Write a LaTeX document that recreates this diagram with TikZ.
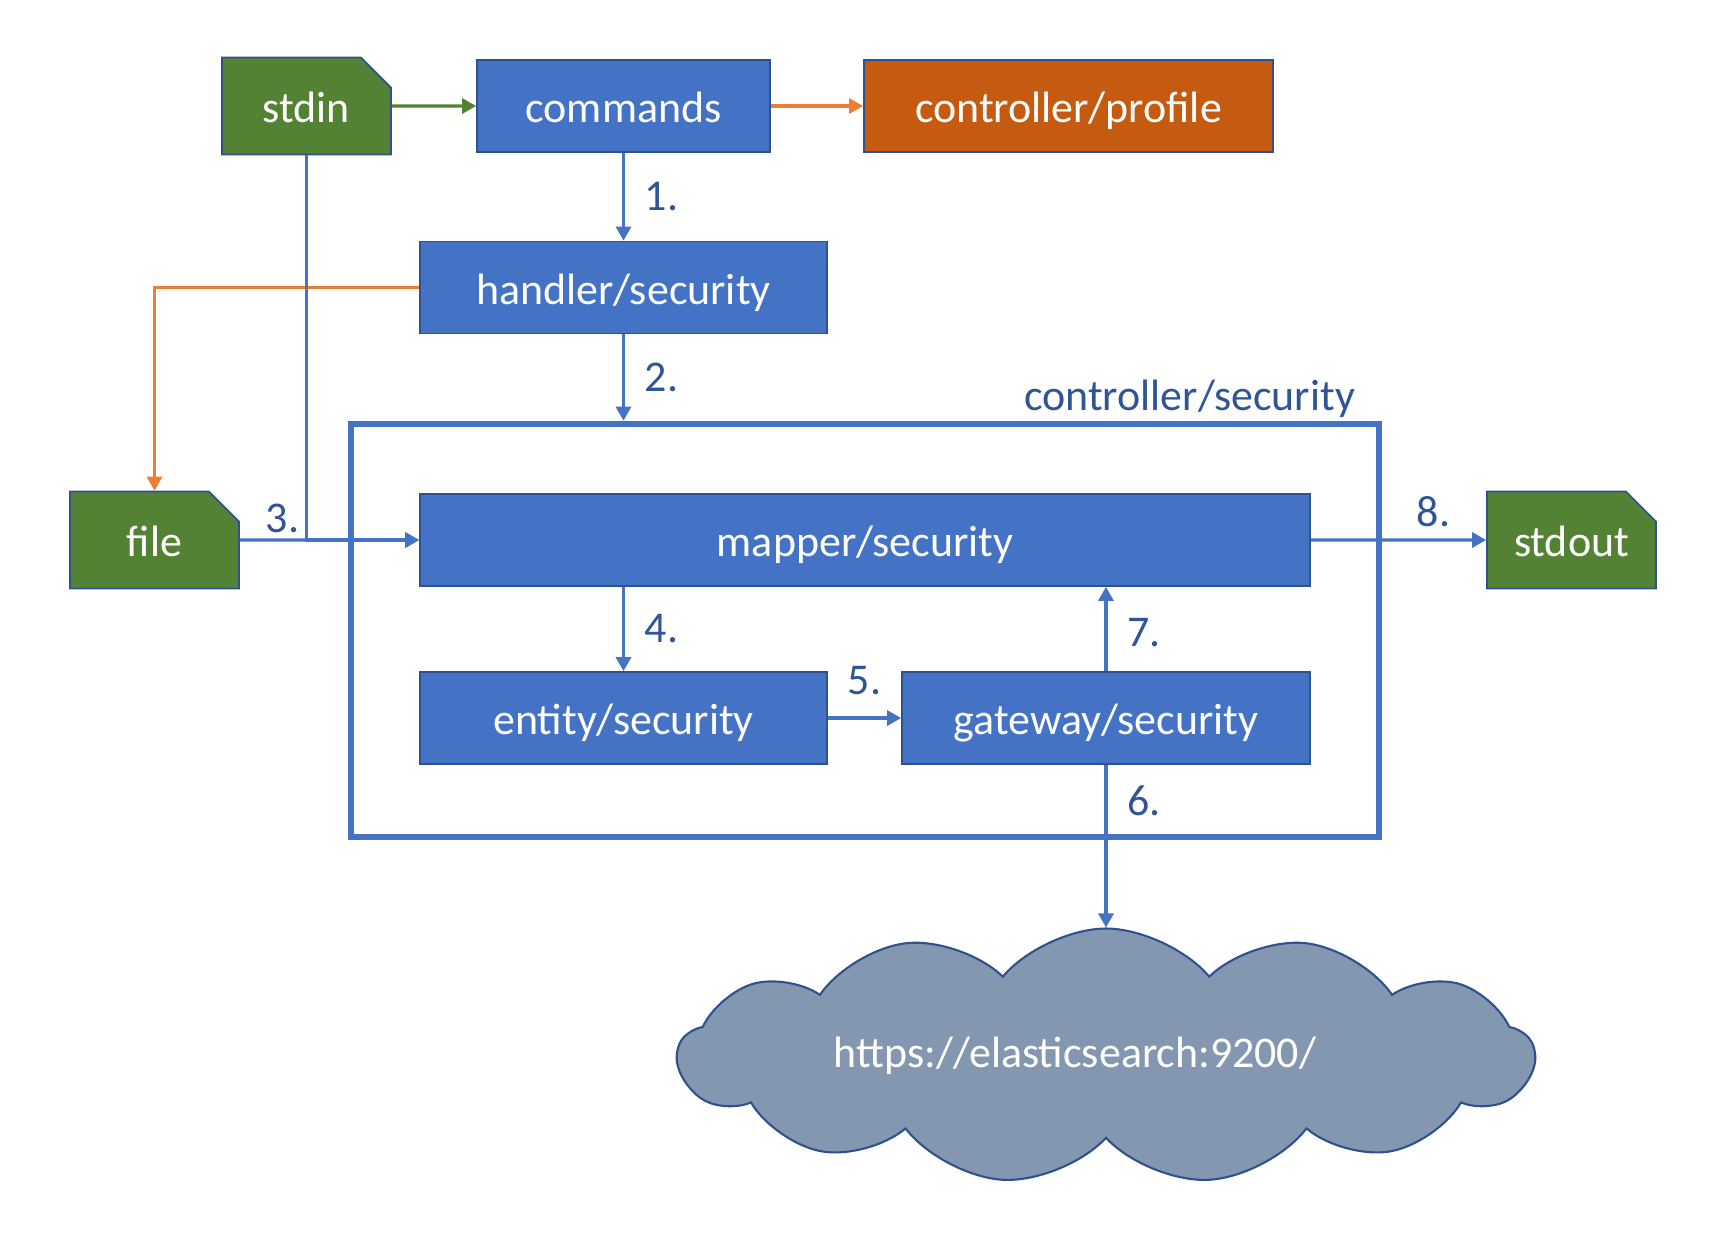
\documentclass[tikz,border=0pt]{standalone}
\usepackage{fontspec}
\setmainfont{Carlito}
\usetikzlibrary{arrows.meta}
\usetikzlibrary{shapes.misc, shapes.symbols}
\usetikzlibrary{positioning}
\definecolor{boxblue}{HTML}{4472C4}
\definecolor{edgeblue}{HTML}{2F528F}
\definecolor{docgreen}{HTML}{548235}
\definecolor{proforange}{HTML}{C55A11}
\definecolor{linkorange}{HTML}{ED7D31}
\definecolor{cloudgray}{HTML}{8497B0}
\definecolor{numblue}{HTML}{2F5597}
\tikzstyle{arrow} = [line width=0.9pt, color=boxblue, -{Triangle[length=1.4mm,width=1.5mm]}]
\tikzstyle{box} = [rectangle, draw=edgeblue, line width=0.5pt, fill=boxblue, text=white, minimum height=0.92cm, text height=9.5pt, text depth=0pt]
\tikzstyle{ctrl} = [box, fill=proforange]
\tikzstyle{doc} = [chamfered rectangle, chamfered rectangle corners=north east, chamfered rectangle sep=1.5mm, draw=edgeblue, line width=0.5pt, fill=docgreen, text=white, minimum width=1.69cm, minimum height=0.97cm, text height=9.5pt, text depth=0pt]
\tikzstyle{frame} = [rectangle, draw=boxblue, line width=1.9pt]
\tikzstyle{num} = [text=numblue]
\tikzstyle{net} = [cloud, cloud puffs=13, cloud puff arc=100, cloud ignores aspect, draw=edgeblue, line width=0.6pt, fill=cloudgray, text=white, minimum width=8.56cm, minimum height=2.55cm]

\begin{document}
\begin{tikzpicture}[font=\fontsize{12.5}{15}\selectfont]
		\useasboundingbox (0,0) rectangle (17.32,-12.40);
		\node (stdin) [doc] at (3.065,-1.06) {stdin};
		\node (commands) [box, minimum width=2.93cm] at (6.235,-1.06) {commands};
		\node (profile) [ctrl, minimum width=4.09cm] at (10.685,-1.06) {controller/profile};
		\node (handler) [box, minimum width=4.07cm] at (6.235,-2.875) {handler/security};
		\node (security) [frame, minimum width=10.28cm, minimum height=4.13cm] at (8.65,-6.305) {};
		\node (seclabel) [num, above left, xshift=-0.15cm, yshift=-0.09cm] at (security.north east) {controller/security};
		\node (file) [doc] at (1.545,-5.40) {file};
		\node (mapper) [box, minimum width=8.9cm] at (8.65,-5.40) {mapper/security};
		\node (stdout) [doc] at (15.715,-5.40) {stdout};
		\node (entity) [box, minimum width=4.07cm] at (6.235,-7.18) {entity/security};
		\node (gateway) [box, minimum width=4.08cm] at (11.06,-7.18) {gateway/security};
		\node (elastic) [net] at (11.06,-10.56) {https://elasticsearch:9200/\hspace*{0.62cm}};
		\draw [arrow, color=docgreen] (stdin) -- (commands);
		\draw [arrow, color=linkorange] (commands) -- (profile);
		\draw [arrow] (commands) -- node [num, right=0.8mm, midway] {1.} (handler);
		\draw [arrow] (handler) -- node [num, right=0.8mm, midway] {2.} (handler |- security.north);
		\draw [arrow, color=linkorange] (handler) -| (file);
		\draw [arrow] (stdin) |- node [num, above left, xshift=0.06cm, yshift=-0.06cm, pos=0.5] {3.} (mapper);
		\draw [arrow] (file) -- (mapper);
		\draw [arrow] (entity.north |- mapper.south) -- node [num, right=0.8mm, midway] {4.} (entity);
		\draw [arrow] (entity) -- node [num, above=1mm, midway] {5.} (gateway);
		\draw [arrow] (gateway) -- node [num, right=0.8mm, pos=0.22] {6.} (elastic);
		\draw [arrow] (gateway) -- node [num, right=0.8mm, midway, yshift=-0.04cm] {7.} (gateway |- mapper.south);
		\draw [arrow] (mapper) -- node [num, above, pos=0.7] {8.} (stdout);
\end{tikzpicture}
\end{document}
